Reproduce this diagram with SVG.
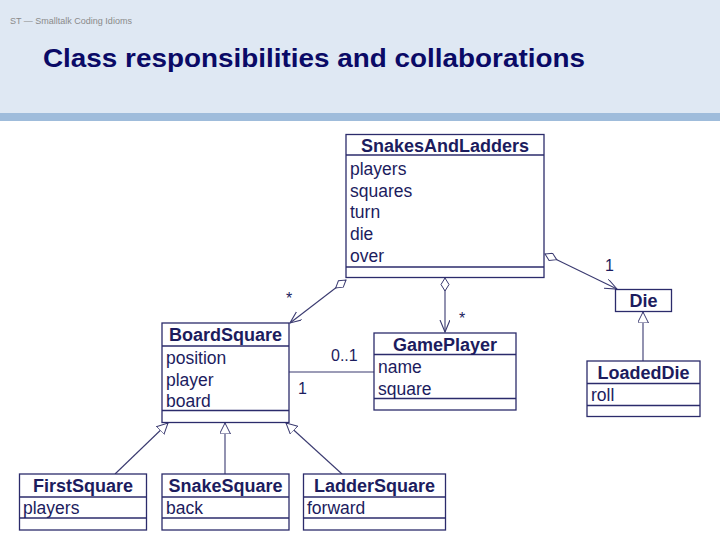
<svg xmlns="http://www.w3.org/2000/svg" width="720" height="540" viewBox="0 0 720 540">
<style>
.box{fill:#fff;stroke:#2b2b6b;stroke-width:1.3}
.div{stroke:#2b2b6b;stroke-width:1.3}
.cn{font-family:"Liberation Sans",Arial,sans-serif;font-weight:bold;font-size:18px;fill:#1c1c5e;text-anchor:middle}
.at{font-family:"Liberation Sans",Arial,sans-serif;font-size:17.5px;fill:#1c1c5e}
.lbl{font-family:"Liberation Sans",Arial,sans-serif;font-size:16px;fill:#1c1c5e}
.ln{fill:none;stroke:#3a3a70;stroke-width:1.1}
</style>
<defs>
<marker id="tri" markerUnits="userSpaceOnUse" markerWidth="14" markerHeight="12" refX="11" refY="5.5" orient="auto" viewBox="0 0 14 12">
<polygon points="0,0 11,5.5 0,11" fill="#fff" stroke="#3a3a70" stroke-width="1"/>
</marker>
<marker id="arr" markerUnits="userSpaceOnUse" markerWidth="14" markerHeight="12" refX="12" refY="5" orient="auto" viewBox="0 0 14 12">
<polyline points="0,0 12,5 0,10" fill="none" stroke="#3a3a70" stroke-width="1.1"/>
</marker>
<marker id="dia" markerUnits="userSpaceOnUse" markerWidth="16" markerHeight="10" refX="1" refY="4.5" orient="auto" viewBox="0 0 16 10">
<polygon points="1,4.5 7.5,0.5 14,4.5 7.5,8.5" fill="#fff" stroke="#3a3a70" stroke-width="1"/>
</marker>
</defs>
<rect x="0" y="0" width="720" height="540" fill="#fff"/>
<rect x="0" y="0" width="720" height="113" fill="#dfe8f3"/>
<rect x="0" y="113" width="720" height="8" fill="#9fbcdb"/>
<text x="10" y="24" font-family="Liberation Sans,Arial,sans-serif" font-size="9" fill="#8a8a8a">ST — Smalltalk Coding Idioms</text>
<text x="43" y="67" font-family="Liberation Sans,Arial,sans-serif" font-size="26" font-weight="bold" fill="#0a0a66" textLength="542" lengthAdjust="spacingAndGlyphs">Class responsibilities and collaborations</text>

<g id="connectors">
<line class="ln" x1="346" y1="280" x2="290" y2="323" marker-start="url(#dia)" marker-end="url(#arr)"/>
<line class="ln" x1="445" y1="278" x2="445" y2="332" marker-start="url(#dia)" marker-end="url(#arr)"/>
<line class="ln" x1="545" y1="254" x2="617" y2="289" marker-start="url(#dia)" marker-end="url(#arr)"/>
<line class="ln" x1="289" y1="372" x2="374" y2="372"/>
<line class="ln" x1="643" y1="361" x2="643" y2="312" marker-end="url(#tri)"/>
<line class="ln" x1="115" y1="474" x2="168" y2="423" marker-end="url(#tri)"/>
<line class="ln" x1="225" y1="474" x2="225" y2="423" marker-end="url(#tri)"/>
<line class="ln" x1="342" y1="474" x2="286" y2="423" marker-end="url(#tri)"/>
<text class="lbl" x="286" y="304">*</text>
<text class="lbl" x="459" y="324">*</text>
<text class="lbl" x="605" y="271">1</text>
<text class="lbl" x="331" y="361">0..1</text>
<text class="lbl" x="298" y="394">1</text>
</g>

<g id="SnakesAndLadders">
<rect class="box" x="346" y="134.5" width="198" height="143"/>
<line class="div" x1="346" y1="155" x2="544" y2="155"/>
<line class="div" x1="346" y1="267" x2="544" y2="267"/>
<text class="cn" x="445" y="152">SnakesAndLadders</text>
<text class="at" x="350" y="175">players</text>
<text class="at" x="350" y="196.5">squares</text>
<text class="at" x="350" y="218">turn</text>
<text class="at" x="350" y="240">die</text>
<text class="at" x="350" y="262">over</text>
</g>

<g id="BoardSquare">
<rect class="box" x="162" y="323" width="127" height="99.5"/>
<line class="div" x1="162" y1="346" x2="289" y2="346"/>
<line class="div" x1="162" y1="410.5" x2="289" y2="410.5"/>
<text class="cn" x="225.5" y="341">BoardSquare</text>
<text class="at" x="166" y="363.5">position</text>
<text class="at" x="166" y="385.5">player</text>
<text class="at" x="166" y="407">board</text>
</g>

<g id="GamePlayer">
<rect class="box" x="374" y="333" width="142" height="77"/>
<line class="div" x1="374" y1="354.5" x2="516" y2="354.5"/>
<line class="div" x1="374" y1="398.5" x2="516" y2="398.5"/>
<text class="cn" x="445" y="351">GamePlayer</text>
<text class="at" x="378" y="373">name</text>
<text class="at" x="378" y="395">square</text>
</g>

<g id="Die">
<rect class="box" x="615.5" y="289.5" width="56" height="22"/>
<text class="cn" x="643.5" y="307">Die</text>
</g>

<g id="LoadedDie">
<rect class="box" x="587" y="361" width="113" height="55.5"/>
<line class="div" x1="587" y1="383.5" x2="700" y2="383.5"/>
<line class="div" x1="587" y1="405.5" x2="700" y2="405.5"/>
<text class="cn" x="643.5" y="379">LoadedDie</text>
<text class="at" x="591" y="400.5">roll</text>
</g>

<g id="FirstSquare">
<rect class="box" x="19.5" y="474" width="127" height="56"/>
<line class="div" x1="19.5" y1="497" x2="146.5" y2="497"/>
<line class="div" x1="19.5" y1="518" x2="146.5" y2="518"/>
<text class="cn" x="83" y="492">FirstSquare</text>
<text class="at" x="23" y="514">players</text>
</g>

<g id="SnakeSquare">
<rect class="box" x="162" y="474" width="127" height="56"/>
<line class="div" x1="162" y1="497" x2="289" y2="497"/>
<line class="div" x1="162" y1="518" x2="289" y2="518"/>
<text class="cn" x="225.5" y="492">SnakeSquare</text>
<text class="at" x="166" y="514">back</text>
</g>

<g id="LadderSquare">
<rect class="box" x="303.5" y="474" width="142" height="56"/>
<line class="div" x1="303.5" y1="497" x2="445.5" y2="497"/>
<line class="div" x1="303.5" y1="518" x2="445.5" y2="518"/>
<text class="cn" x="374.5" y="492">LadderSquare</text>
<text class="at" x="307" y="514">forward</text>
</g>
</svg>
